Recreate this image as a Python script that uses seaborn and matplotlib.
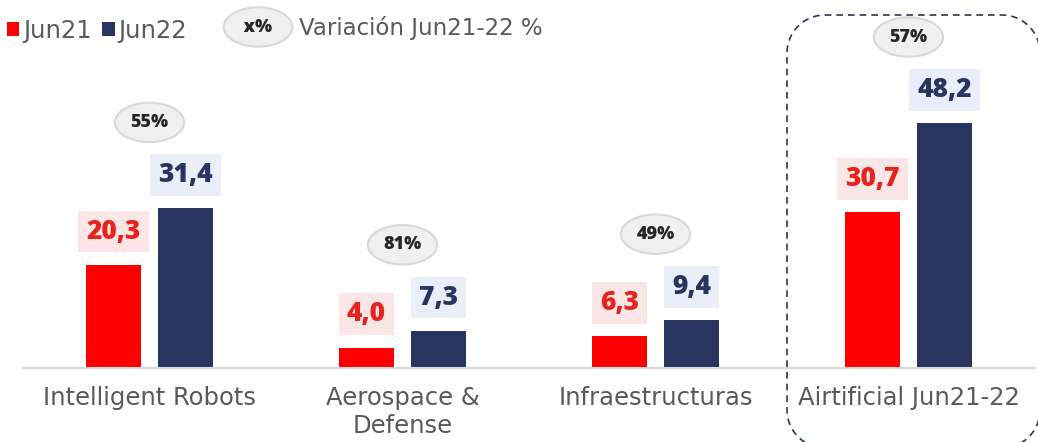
import numpy as np
import pandas as pd
import matplotlib.pyplot as plt
import seaborn as sns

# datos
categories = ["Intelligent Robots", "Aerospace &\nDefense", "Infraestructuras", "Airtificial Jun21-22"]
series = ["Jun21", "Jun22"]
jun21 = [20.3, 4.0, 6.3, 30.7]
jun22 = [31.4, 7.3, 9.4, 48.2]
variation = [55, 81, 49, 57]

RED = "#FF0000"
NAVY = "#283561"
GREY_TXT = "#595959"
REG = ["DejaVu Sans"]
BOLD = ["Open Sans", "DejaVu Sans"]

df = pd.DataFrame({
    "cat": categories * 2,
    "serie": [series[0]] * len(jun21) + [series[1]] * len(jun22),
    "valor": jun21 + jun22,
})


def rounded_rect(x0, y0, w, h, r, n=40):
    # contorno como polilinea (evita artefactos de recorte con curvas fuera del lienzo)
    t = np.linspace(0, np.pi / 2, n)
    corners = [(x0 + w - r, y0 + h - r, 0), (x0 + r, y0 + h - r, 1),
               (x0 + r, y0 + r, 2), (x0 + w - r, y0 + r, 3)]
    xs, ys = [], []
    for cx, cy, k in corners:
        a = t + k * np.pi / 2
        xs.extend(cx + r * np.cos(a))
        ys.extend(cy + r * np.sin(a))
    xs.append(xs[0])
    ys.append(ys[0])
    return xs, ys


sns.set_theme(style="white")
plt.rcParams["font.family"] = REG

W, H = 1038, 442
fig = plt.figure(figsize=(W / 100, H / 100), dpi=100)
ax = fig.add_axes([23 / W, 74 / H, 1012 / W, 338 / H])
sns.barplot(data=df, x="cat", y="valor", hue="serie", palette=[RED, NAVY], saturation=1,
            width=0.57, gap=0.23, linewidth=0, ax=ax)
ax.set_xlim(-0.5, 3.5)
ax.set_ylim(0, 338 / 5.08)
ax.set_xlabel("")
ax.set_ylabel("")
ax.set_yticks([])
for s in ["left", "top", "right"]:
    ax.spines[s].set_visible(False)
ax.spines["bottom"].set_color("#D9D9D9")
ax.spines["bottom"].set_linewidth(1.5)
ax.tick_params(axis="x", length=0, pad=13, labelsize=17.5, labelcolor=GREY_TXT)

# etiquetas de valor
box_cols = ["#FBE6E7", "#EAEEF8"]
txt_cols = ["#E8231E", NAVY]
for i, cont in enumerate(ax.containers):
    for bar in cont:
        h = bar.get_height()
        x = bar.get_x() + bar.get_width() / 2
        ax.annotate(f"{h:.1f}".replace(".", ","), (x, h), xytext=(0, 24),
                    textcoords="offset points", ha="center", va="center",
                    fontsize=19, fontweight="heavy", family=BOLD, color=txt_cols[i],
                    bbox=dict(boxstyle="square,pad=0.3", fc=box_cols[i], ec="none"))

# variacion %
tops = [max(a, b) for a, b in zip(jun21, jun22)]
for i, (t, v) in enumerate(zip(tops, variation)):
    ax.annotate(f"{v}%", (i, t), xytext=(0, 62), textcoords="offset points",
                ha="center", va="center", fontsize=13, fontweight="heavy", family=BOLD,
                color="#262626",
                bbox=dict(boxstyle="ellipse,pad=0.3", fc="#F0F0F0", ec="#D9D9D9", lw=1.5))

# leyenda
handles, labels = ax.get_legend_handles_labels()
ax.legend(handles, labels, loc="center left", bbox_to_anchor=(7 / W, 1 - 31 / H),
          bbox_transform=fig.transFigure, ncol=2, frameon=False, fontsize=17.5,
          handlelength=0.5, handleheight=0.5, handletextpad=0.15, columnspacing=0.45,
          borderpad=0, borderaxespad=0, labelcolor=GREY_TXT)

fig.text(258 / W, 1 - 27 / H, " x% ", ha="center", va="center", fontsize=13,
         fontweight="heavy", family=BOLD, color="#262626",
         bbox=dict(boxstyle="ellipse,pad=0.3", fc="#F0F0F0", ec="#D9D9D9", lw=1.5))
fig.text(299 / W, 1 - 28 / H, "Variación Jun21-22 %", ha="left", va="center",
         fontsize=16.5, color=GREY_TXT)

# recuadro discontinuo (pixeles, y hacia arriba)
ov = fig.add_axes([0, 0, 1, 1])
ov.set_xlim(0, W)
ov.set_ylim(0, H)
ov.axis("off")
ov.patch.set_alpha(0)
bx, by = rounded_rect(787, H - 15 - 433, 253, 433, 38)
ov.plot(bx, by, color=NAVY, lw=1.2, ls=(0, (4, 3)), clip_on=False)

fig.savefig("out.png", dpi=100)
